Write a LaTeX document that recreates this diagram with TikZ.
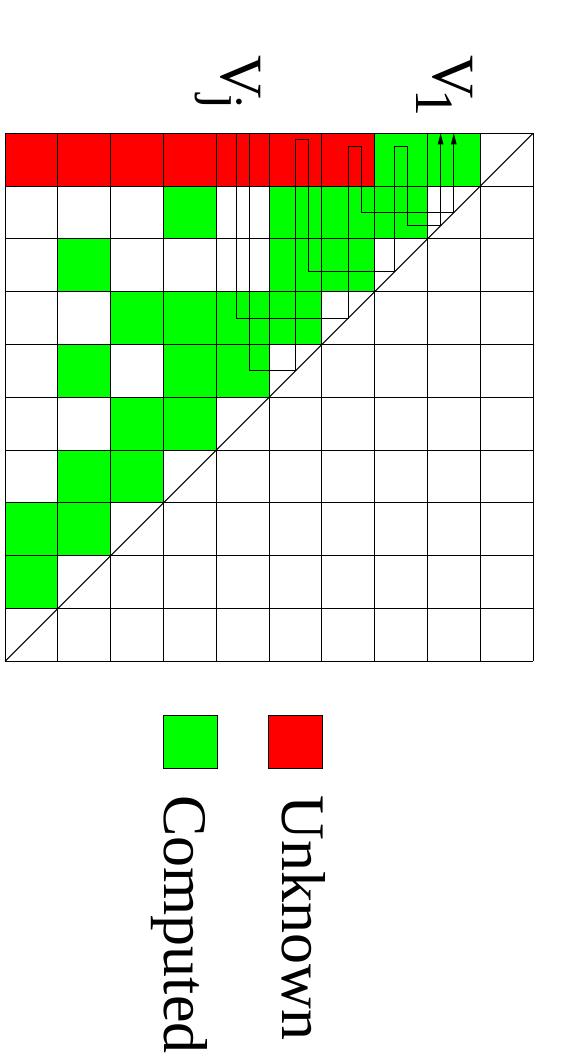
\documentclass[tikz,border=0pt]{standalone}
\usepackage{fontspec}
\setmainfont{Liberation Serif}
\usetikzlibrary{arrows.meta}
\begin{document}
\begin{tikzpicture}[x=1pt,y=-1pt,
  gridline/.style={line width=1pt, black},
  route/.style={line width=1pt, black},
  uparrow/.style={route, -{Triangle[length=11pt,width=5.5pt]}},
  labeltext/.style={rotate=-90, anchor=base west, inner sep=0pt, font=\fontsize{60}{60}\selectfont},
  legendtext/.style={rotate=-90, anchor=base west, inner sep=0pt, font=\fontsize{62}{62}\selectfont},
  legendbox/.style={draw=black, line width=1pt, minimum width=54pt, minimum height=53pt, inner sep=0pt, anchor=north west}]
\useasboundingbox (0,0) rectangle (566,1054);
\begin{scope}[shift={(5,133.3)}, x=52.8pt, y=-52.8pt]
  % unknown cells
  \fill[red] (0,0) rectangle (7,1);
  % computed cells
  \foreach \c/\r in {7/0,8/0,
                     3/1,5/1,6/1,7/1,
                     1/2,5/2,6/2,
                     2/3,3/3,4/3,5/3,
                     1/4,3/4,4/4,
                     2/5,3/5,
                     1/6,2/6,
                     0/7,1/7,
                     0/8}
    \fill[green] (\c,\r) rectangle ++(1,1);
  % grid and diagonal
  \foreach \i in {0,...,10} {
    \draw[gridline] (\i,0) -- (\i,10);
    \draw[gridline] (0,\i) -- (10,\i);
  }
  \coordinate (dlo) at (0,10);
  \coordinate (dhi) at (10,0);
  \draw[gridline] (dlo) -- (dhi);
  % route A
  \coordinate (a0) at (4.625,0);
  \coordinate (a1) at (4.625,4.5);
  \coordinate (a2) at (5.5,4.5);
  \coordinate (a3) at (5.5,0.125);
  \coordinate (a4) at (5.75,0.125);
  \coordinate (a5) at (5.75,2.625);
  \coordinate (a6) at (7.375,2.625);
  \coordinate (a7) at (7.375,0.25);
  \coordinate (a8) at (7.625,0.25);
  \coordinate (a9) at (7.625,1.75);
  \coordinate (a10) at (8.25,1.75);
  \coordinate (a11) at (8.25,0);
  \draw[uparrow] (a0) -- (a1) -- (a2) -- (a3) -- (a4) -- (a5) -- (a6) -- (a7) -- (a8) -- (a9) -- (a10) -- (a11);
  % route B
  \coordinate (b0) at (4.375,0);
  \coordinate (b1) at (4.375,3.5);
  \coordinate (b2) at (6.5,3.5);
  \coordinate (b3) at (6.5,0.25);
  \coordinate (b4) at (6.75,0.25);
  \coordinate (b5) at (6.75,1.5);
  \coordinate (b6) at (8.5,1.5);
  \coordinate (b7) at (8.5,0);
  \draw[uparrow] (b0) -- (b1) -- (b2) -- (b3) -- (b4) -- (b5) -- (b6) -- (b7);
\end{scope}
% column labels
\node[labeltext] (v1) at (433.3,55.5) {V\kern-10pt\raisebox{-17pt}{\fontsize{54}{54}\selectfont 1}};
\node[labeltext] (vj) at (221.7,55.5) {V\kern-5pt\raisebox{-15pt}{\fontsize{54}{54}\selectfont j}};
% legend
\node[legendbox, fill=red] (unkbox) at (268.3,714.7) {};
\node[legendbox, fill=green] (compbox) at (163.3,714.7) {};
\node[legendtext] (unk) at (282.5,795.5) {Unknown};
\node[legendtext] (comp) at (164,795) {Computed};
\end{tikzpicture}
\end{document}
